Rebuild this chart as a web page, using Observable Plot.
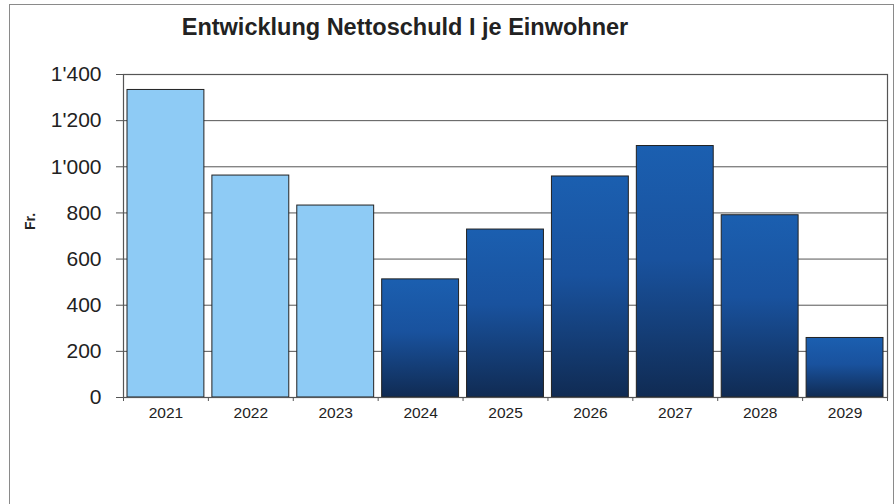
<!DOCTYPE html>
<html>
<head>
<meta charset="utf-8">
<script src="https://cdn.jsdelivr.net/npm/d3@7"></script>
<script src="https://cdn.jsdelivr.net/npm/@observablehq/plot@0.6"></script>
<style>
  html, body { margin: 0; padding: 0; background: #fff; }
  #wrap { position: relative; width: 896px; height: 504px; overflow: hidden; font-family: "Liberation Sans", Arial, sans-serif; }
  #outer { position: absolute; left: 9px; top: 4px; width: 885px; height: 520px; border: 1.5px solid #8a8a8a; box-sizing: border-box; }
  #title { position: absolute; left: 0; width: 810px; top: 14px; text-align: center; font-size: 23.5px; font-weight: bold; color: #222; white-space: nowrap; }
  #chart { position: absolute; left: 0; top: 0; }
</style>
</head>
<body>
<div id="wrap">
  <div id="outer"></div>
  <div id="chart"></div>
  <div id="title">Entwicklung Nettoschuld I je Einwohner</div>
</div>
<script>
const years = ["2021", "2022", "2023", "2024", "2025", "2026", "2027", "2028", "2029"];
const values = [1333, 962, 832, 512, 728, 958, 1090, 790, 258];
const kinds = ["ist", "ist", "ist", "plan", "plan", "plan", "plan", "plan", "plan"];
const yTicks = [0, 200, 400, 600, 800, 1000, 1200, 1400];
const yLabel = "Fr.";

const data = years.map((yr, i) => ({year: yr, i, value: values[i], kind: kinds[i]}));
const fmt = d3.formatLocale({decimal: ".", thousands: "'", grouping: [3], currency: ["", ""]}).format(",");

const svg = Plot.plot({
  width: 896,
  height: 504,
  marginLeft: 123,
  marginRight: 9,
  marginTop: 74,
  marginBottom: 107,
  style: {fontFamily: "Liberation Sans, Arial, sans-serif", background: "transparent", color: "#222"},
  x: {type: "linear", domain: [0, years.length], axis: null},
  y: {domain: [0, 1400], axis: null},
  marks: [
    Plot.gridY(yTicks, {stroke: "#555", strokeOpacity: 1, strokeWidth: 1}),
    Plot.rectY(data, {
      x1: "i",
      x2: d => d.i + 1,
      y: "value",
      insetLeft: 4,
      insetRight: 4,
      fill: d => d.kind === "ist" ? "#8ecbf5" : "url(#darkGrad)",
      stroke: "#222",
      strokeWidth: 1
    }),
    Plot.frame({stroke: "#555", strokeWidth: 1.2}),
    Plot.axisY(yTicks, {
      tickSize: 7,
      tickPadding: 15,
      tickFormat: fmt,
      fontSize: 21,
      stroke: "#555",
      label: null
    }),
    Plot.axisX(d3.range(years.length + 1), {
      tickSize: 4,
      text: null,
      stroke: "#555",
      label: null
    }),
    Plot.axisX(data.map(d => d.i + 0.5), {
      tickSize: 0,
      tickPadding: 9,
      tickFormat: v => years[Math.floor(v)],
      fontSize: 15.5,
      label: null
    }),
    Plot.text([yLabel], {
      frameAnchor: "left",
      dx: -93,
      dy: -6,
      rotate: -90,
      fontWeight: "bold",
      fontSize: 14,
      fill: "#222"
    })
  ]
});

const defs = d3.select(svg).insert("defs", ":first-child");
const g = defs.append("linearGradient").attr("id", "darkGrad").attr("x1", 0).attr("y1", 0).attr("x2", 0).attr("y2", 1);
g.append("stop").attr("offset", "0%").attr("stop-color", "#1b5fb0");
g.append("stop").attr("offset", "45%").attr("stop-color", "#19529e");
g.append("stop").attr("offset", "100%").attr("stop-color", "#102b53");

document.getElementById("chart").appendChild(svg);
</script>
</body>
</html>
